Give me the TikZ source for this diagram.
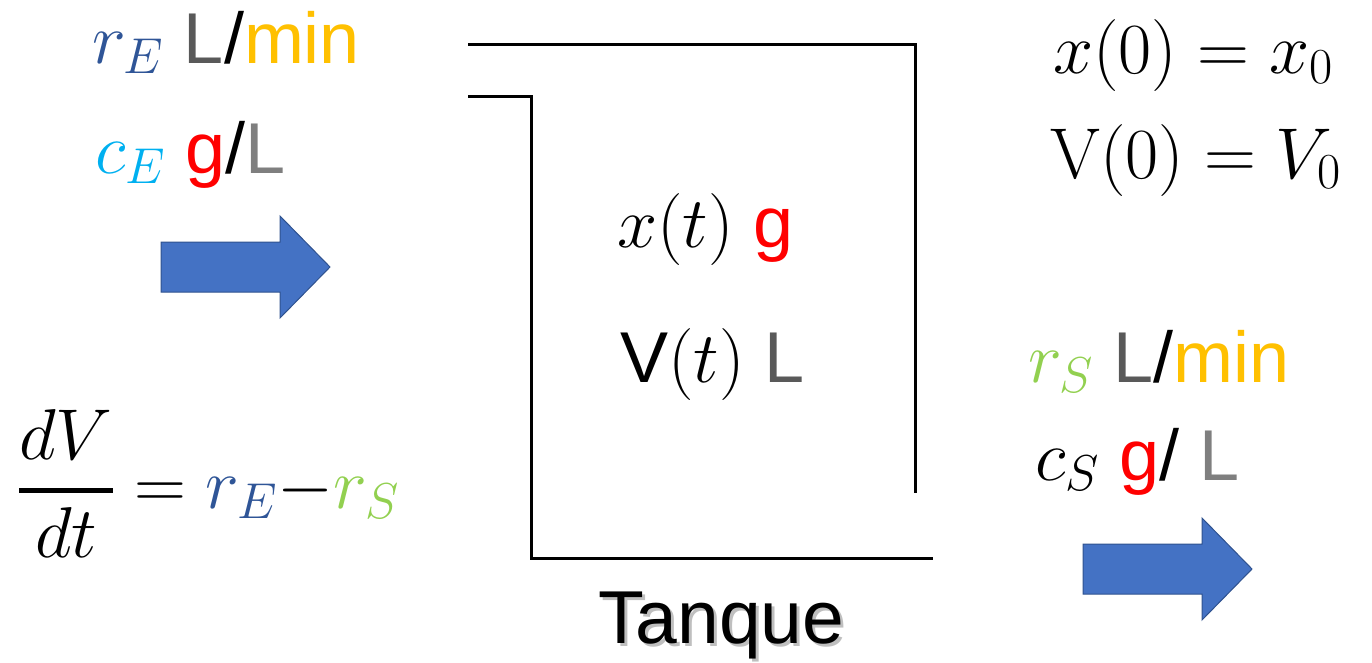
\RequirePackage{fix-cm}
\documentclass[tikz,border=0pt]{standalone}
\usepackage{amsmath}
\usepackage[no-math]{fontspec}
\setmainfont{Liberation Sans}
\usepackage{xcolor}
\usepackage{tikz}
\usetikzlibrary{positioning}
\definecolor{rE}{HTML}{2F5597}
\definecolor{cE}{HTML}{00B0F0}
\definecolor{rS}{HTML}{92D050}
\definecolor{gmin}{HTML}{FFC000}
\definecolor{gL}{HTML}{595959}
\definecolor{gLb}{HTML}{7F7F7F}
\definecolor{afill}{HTML}{4472C4}
\definecolor{aedge}{HTML}{2F528F}

\begin{document}
\begin{tikzpicture}[x=1pt,y=-1pt,
  t/.style={inner sep=0pt,anchor=base west,font=\fontsize{72}{80}\selectfont},
  wall/.style={line width=3pt},
  flow/.style={fill=afill,draw=aedge,line width=1pt}]
 \useasboundingbox (0,0) rectangle (1372,662);
 % tank
 \draw[wall] (468,44) -- (915,44) -- (915,493);
 \draw[wall] (468,96) -- (531,96) -- (531,558) -- (933,558);
 \node[t,font=\fontsize{75}{80}\selectfont] (tank) at (598,643)
   {\makebox[0pt][l]{\hspace{3pt}\raisebox{-3pt}{\textcolor{black!25}{Tanque}}}Tanque};
 \node[t] (xt) at (617,247) {$x(t)$ \textcolor{red}{g}};
 \node[t] (vt) at (620,382) {V$(t)$ \textcolor{gL}{L}};
 % inflow
 \node[t] (rin) at (92,63) {$\color{rE}r_E$ \textcolor{gL}{L}/\textcolor{gmin}{min}};
 \node[t] (cin) at (95,173) {$\color{cE}c_E$ \textcolor{red}{g}/\textcolor{gLb}{L}};
 \node[t] (dvdt) at (18,508) {$\genfrac{}{}{5pt}{0}{dV}{dt} = {\color{rE}r_E}{-}{\color{rS}r_S}$};
 % outflow
 \node[t] (rout) at (1028,382) {$\color{rS}r_S$ \textcolor{gL}{L}/\textcolor{gmin}{min}};
 \node[t] (cout) at (1035,480) {$c_S$ \textcolor{red}{g}/ \textcolor{gLb}{L}};
 % initial values
 \node[t] (x0) at (1053,73) {$x(0) = x_0$};
 \node[t] (v0) at (1050,178) {$\mathrm{V}(0) = V_0$};
 % block arrows
 \foreach \ax/\ay in {161/267,1083/569}
   \draw[flow,shift={(\ax,\ay)}] (0,-25) -- (119,-25) -- (119,-51) -- (169,0)
     -- (119,51) -- (119,25) -- (0,25) -- cycle;
\end{tikzpicture}
\end{document}
